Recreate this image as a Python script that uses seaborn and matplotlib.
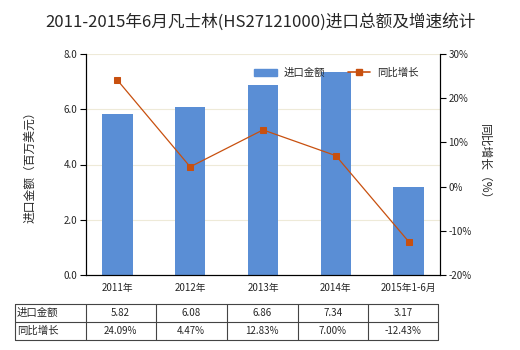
import matplotlib
matplotlib.use("Agg")
import matplotlib.pyplot as plt
import seaborn as sns
import pandas as pd
import numpy as np
from matplotlib.lines import Line2D
from matplotlib.patches import Patch

categories = ["2011年", "2012年", "2013年", "2014年", "2015年1-6月"]
import_values = [5.82, 6.08, 6.86, 7.34, 3.17]
growth_pct = [24.09, 4.47, 12.83, 7.00, -12.43]
value_labels = ["5.82", "6.08", "6.86", "7.34", "3.17"]
growth_labels = ["24.09%", "4.47%", "12.83%", "7.00%", "-12.43%"]
title = "2011-2015年6月凡士林(HS27121000)进口总额及增速统计"

sns.set_theme(style="white")
plt.rcParams['font.family'] = ['Noto Sans CJK SC', 'DejaVu Sans']
plt.rcParams['axes.unicode_minus'] = False

bar_color = "#5A8ED5"
line_color = "#C8500F"
W, H = 520, 350
fig = plt.figure(figsize=(5.2, 3.5), dpi=100)
ax = fig.add_axes([86 / W, 1 - 275 / H, (440 - 86) / W, (275 - 54) / H])

df = pd.DataFrame({"cat": categories, "val": import_values, "g": growth_pct})
sns.barplot(data=df, x="cat", y="val", color=bar_color, width=0.42, ax=ax, saturation=1, linewidth=0)
ax.set_ylim(0, 8)
ax.set_yticks([0, 2, 4, 6, 8])
ax.set_yticklabels([f"{v:.1f}" for v in [0, 2, 4, 6, 8]], fontsize=7)
ax.yaxis.grid(True, color="#EEEAD8", linewidth=0.8)
ax.set_axisbelow(True)
ax.set_xlabel("")
ax.set_ylabel("进口金额（百万美元）", fontsize=8.5, labelpad=20)
ax.tick_params(axis="x", labelsize=7, length=0, pad=6)
ax.tick_params(axis="y", length=4, width=0.8, color="black", left=True, pad=2)
for s in ["left", "bottom", "right"]:
    ax.spines[s].set_color("black")
    ax.spines[s].set_linewidth(0.8)
ax.spines["top"].set_visible(False)

ax2 = ax.twinx()
sns.lineplot(data=df, x="cat", y="g", color=line_color, linewidth=0.9, marker="s",
             markersize=4, markeredgecolor=line_color, ax=ax2, sort=False)
ax2.set_ylim(-20, 30)
ax2.set_yticks([-20, -10, 0, 10, 20, 30])
ax2.set_yticklabels([f"{v}%" for v in [-20, -10, 0, 10, 20, 30]], fontsize=7)
ax2.tick_params(axis="y", length=4, width=0.8, color="black", right=True, pad=2)
ax2.set_ylabel("同比增长（%）", fontsize=8.5, rotation=-90, labelpad=14)
ax2.set_xlabel("")
for s in ["left", "bottom", "right"]:
    ax2.spines[s].set_color("black")
    ax2.spines[s].set_linewidth(0.8)
ax2.spines["top"].set_visible(False)
ax2.set_xlim(ax.get_xlim())

handles = [Patch(color=bar_color), Line2D([0], [0], color=line_color, marker="s", markersize=4, linewidth=1.2)]
ax2.legend(handles, ["进口金额", "同比增长"], loc="upper right", bbox_to_anchor=(0.965, 0.98), ncol=2,
           frameon=False, fontsize=7.5, handlelength=2.2, columnspacing=2.2, handletextpad=0.6)

fig.suptitle(title, y=1 - 22 / H, fontsize=12, va="center")

# data table
cols = [15, 85.5, 155.5, 226.5, 297.5, 368, 438]
rows = [304, 322, 340]
for x in cols:
    fig.add_artist(Line2D([x / W, x / W], [1 - rows[0] / H, 1 - rows[-1] / H], color="#444444", linewidth=0.8))
for y in rows:
    fig.add_artist(Line2D([cols[0] / W, cols[-1] / W], [1 - y / H, 1 - y / H], color="#444444", linewidth=0.8))
row_titles = ["进口金额", "同比增长"]
row_data = [value_labels, growth_labels]
for r in range(2):
    yc = 1 - (rows[r] + rows[r + 1]) / 2 / H
    fig.text((cols[0] + 2) / W, yc, row_titles[r], fontsize=7.5, va="center", ha="left")
    for c in range(5):
        xc = (cols[c + 1] + cols[c + 2]) / 2 / W
        fig.text(xc, yc, row_data[r][c], fontsize=7, va="center", ha="center")

fig.savefig("out.png", dpi=100)
